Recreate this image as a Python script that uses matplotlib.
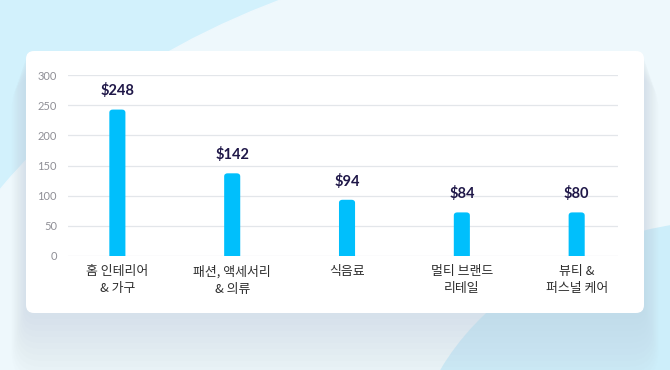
import matplotlib
matplotlib.use("Agg")
import matplotlib.pyplot as plt
from matplotlib.patches import FancyBboxPatch, Ellipse, Rectangle

plt.rcParams['font.family'] = ['Noto Sans CJK KR', 'DejaVu Sans']

# data
categories = ["홈 인테리어\n& 가구", "패션, 액세서리\n& 의류", "식음료", "멀티 브랜드\n리테일", "뷰티 &\n퍼스널 케어"]
bar_values = [243, 137, 93, 72, 72]
value_labels = ["$248", "$142", "$94", "$84", "$80"]
y_ticks = [0, 50, 100, 150, 200, 250, 300]

bar_color = "#00bffc"
label_color = "#1f1748"
grid_color = "#e3e6ea"

W, H = 670, 370
fig = plt.figure(figsize=(W / 100, H / 100), dpi=100)

# background decoration in pixel coordinates
bg = fig.add_axes([0, 0, 1, 1])
bg.set_xlim(0, W)
bg.set_ylim(H, 0)
bg.axis("off")
bg.add_patch(Rectangle((0, 0), W, H, color="#d2f1fc", zorder=0))
bg.add_patch(Ellipse((640, 420), 1456, 966, color="#eef8fc", zorder=1))
bg.add_patch(Ellipse((740, 480), 660, 520, color="#cdeefa", zorder=2))
# soft card shadow
for i in range(12):
    g = 4 + i * 4
    bg.add_patch(FancyBboxPatch((26 - g * 0.3, 51 + g * 0.5), 618 + g * 0.6, 262 + g,
                                boxstyle="round,pad=0,rounding_size=%d" % (10 + g // 2),
                                color="#9fb0bf", alpha=0.018, lw=0, zorder=3))
bg.add_patch(FancyBboxPatch((26, 51), 618, 262, boxstyle="round,pad=0,rounding_size=8",
                            color="white", lw=0, zorder=4))

ax = fig.add_axes([68 / W, (H - 255.7) / H, 550 / W, 180.4 / H])
ax.set_facecolor("none")
x = list(range(len(categories)))
bars = ax.bar(x, bar_values, width=0.14, color=bar_color, zorder=3)

# rounded tops
for b in bars:
    b.set_visible(False)
    ax.add_patch(FancyBboxPatch((b.get_x(), -15), b.get_width(), b.get_height() + 15,
                                boxstyle="round,pad=0,rounding_size=0.03",
                                mutation_aspect=170, color=bar_color, lw=0, zorder=3))

for xi, v, lab in zip(x, bar_values, value_labels):
    ax.annotate(lab, (xi, v), xytext=(0, 8), textcoords="offset points",
                ha="center", va="bottom", fontsize=10.5, color=label_color,
                fontweight="bold", family=["Lato", "DejaVu Sans"])

ax.set_xlim(-0.43, 4.36)
ax.set_ylim(0, 300)
ax.set_yticks(y_ticks)
ax.set_yticklabels([str(t) for t in y_ticks], fontsize=8, color="#8f8f96",
                   family=["Lato", "DejaVu Sans"])
ax.set_xticks(x)
ax.set_xticklabels(categories, fontsize=9.3, color="#2e2e2e", linespacing=1.4)
ax.tick_params(axis="both", length=0)
ax.tick_params(axis="y", pad=8)
ax.tick_params(axis="x", pad=7)
ax.grid(axis="y", color=grid_color, linewidth=0.9, zorder=0)
ax.set_axisbelow(True)
for s in ax.spines.values():
    s.set_visible(False)

fig.savefig("out.png", dpi=100)
